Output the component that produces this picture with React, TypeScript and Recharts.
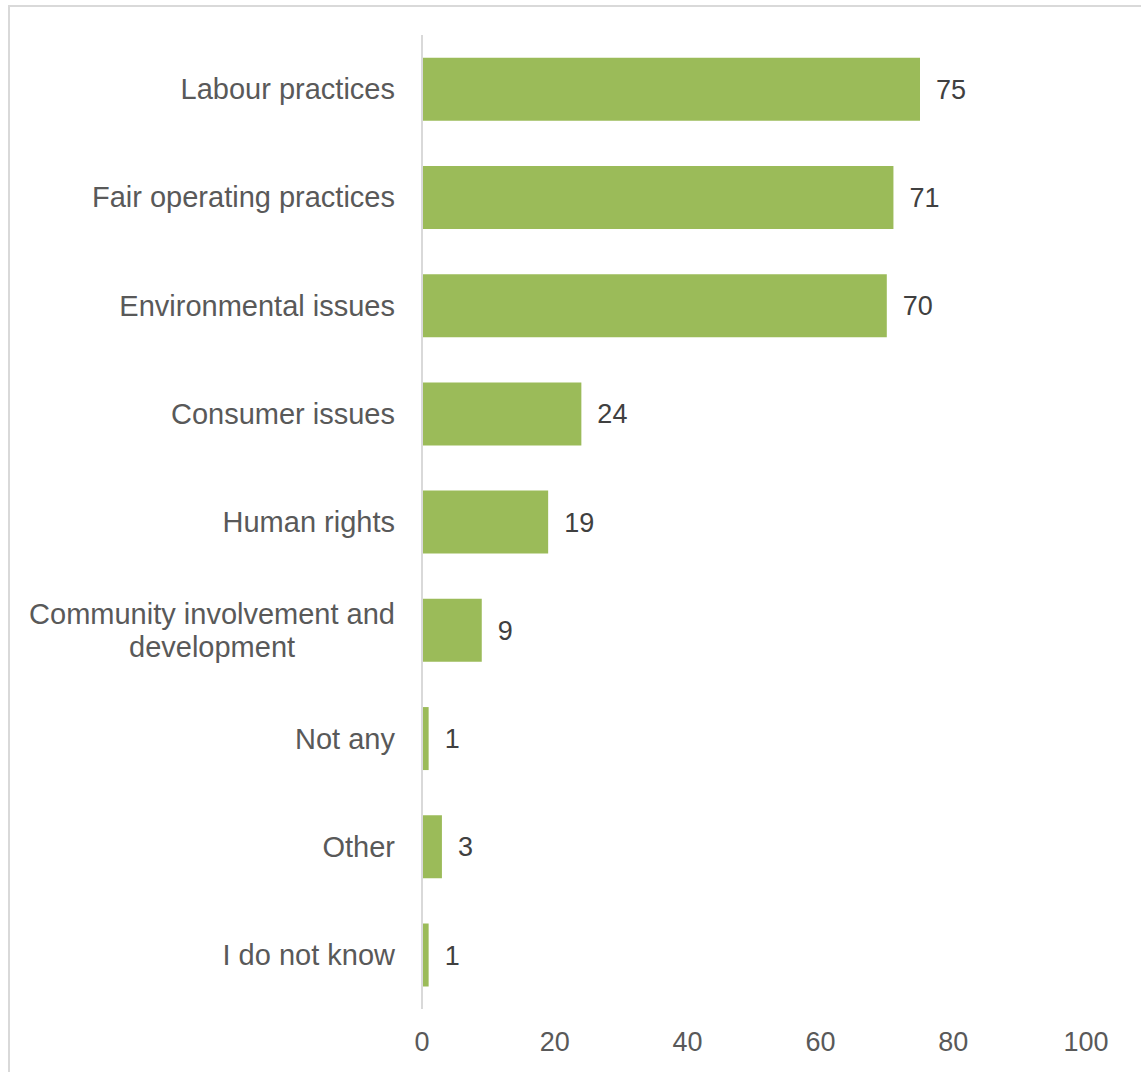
import { Bar, BarChart, LabelList, XAxis, YAxis } from "recharts";

const categories = [
  "Labour practices",
  "Fair operating practices",
  "Environmental issues",
  "Consumer issues",
  "Human rights",
  "Community involvement and\ndevelopment",
  "Not any",
  "Other",
  "I do not know",
];
const counts = [75, 71, 70, 24, 19, 9, 1, 3, 1];
const xTicks = [0, 20, 40, 60, 80, 100];

const data = categories.map((name, i) => ({ name, value: counts[i] }));

const FONT = '"Liberation Sans", Arial, sans-serif';
const LABEL_SIZE = 29;

function measure(text: string) {
  const c = document.createElement("canvas").getContext("2d");
  if (!c) return text.length * LABEL_SIZE * 0.5;
  c.font = `${LABEL_SIZE}px ${FONT}`;
  return c.measureText(text).width;
}

// category label, right aligned; wrapped lines centred on each other
function CategoryTick(props: any) {
  const { x, y, payload } = props;
  const lines: string[] = String(payload.value).split("\n");
  if (lines.length === 1) {
    return (
      <text x={x} y={y} dy="0.35em" textAnchor="end" fill="#595959" fontSize={LABEL_SIZE} fontFamily={FONT}>
        {lines[0]}
      </text>
    );
  }
  const w = Math.max(...lines.map(measure));
  const lh = 33;
  const y0 = y - ((lines.length - 1) * lh) / 2;
  return (
    <text x={x - w / 2} y={y0} dy="0.35em" textAnchor="middle" fill="#595959" fontSize={LABEL_SIZE} fontFamily={FONT}>
      {lines.map((l, i) => (
        <tspan key={i} x={x - w / 2} y={y0 + i * lh} dy="0.35em">
          {l}
        </tspan>
      ))}
    </text>
  );
}

export default function App() {
  return (
    <div
      style={{
        position: "absolute",
        left: 8,
        top: 5,
        width: 1145,
        height: 1080,
        border: "2px solid #d9d9d9",
        boxSizing: "border-box",
        background: "#fff",
        fontFamily: FONT,
      }}
    >
      <BarChart
        width={1120}
        height={1070}
        data={data}
        layout="vertical"
        margin={{ top: 28, right: 44, bottom: 8, left: 0 }}
        barCategoryGap="21%"
      >
        <XAxis
          type="number"
          domain={[0, 100]}
          ticks={xTicks}
          axisLine={false}
          tickLine={false}
          tickMargin={17}
          height={60}
          tick={{ fill: "#595959", fontSize: 27, fontFamily: FONT }}
        />
        <YAxis
          type="category"
          dataKey="name"
          width={412}
          axisLine={{ stroke: "#d9d9d9", strokeWidth: 2 }}
          tickLine={false}
          tickSize={0}
          tickMargin={27}
          interval={0}
          tick={<CategoryTick />}
        />
        <Bar dataKey="value" fill="#9bbb59" isAnimationActive={false}>
          <LabelList
            dataKey="value"
            position="right"
            offset={16}
            fill="#404040"
            fontSize={27}
            fontFamily={FONT}
          />
        </Bar>
      </BarChart>
    </div>
  );
}
